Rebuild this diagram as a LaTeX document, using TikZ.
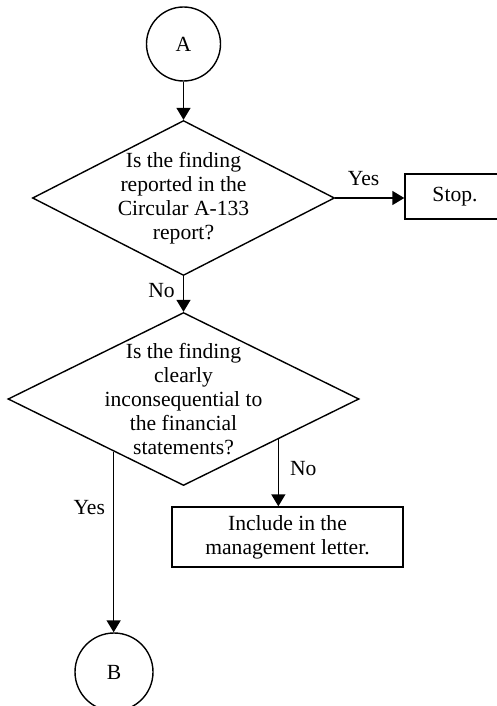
\documentclass[tikz,border=0pt]{standalone}
\usepackage{fontspec}
\setmainfont{Liberation Serif}
\usetikzlibrary{shapes.geometric,arrows.meta}

\begin{document}
\begin{tikzpicture}[x=0.5pt,y=-0.5pt,line width=0.7pt,
		font=\fontsize{10.8}{12}\selectfont,
		connector/.style={circle,draw,inner sep=0pt},
		decision/.style={diamond,draw,inner sep=0pt},
		action/.style={rectangle,draw,align=center,inner sep=0pt},
		flow/.style={-{Triangle[length=6pt,width=7pt]}},
		answer/.style={inner sep=1pt}]
			\useasboundingbox (0,0) rectangle (497,706);
			\node [connector,minimum size=37pt] (A) at (183.5,44) {A};
			\node [decision,minimum width=151pt,minimum height=77.5pt,
				label={[align=center]center:Is the finding\\reported in the\\Circular A-133\\report?}] (q1) at (183.5,198) {};
			\node [action,minimum width=50pt,minimum height=22.5pt] (stop) at (455,196.5) {Stop.};
			\node [decision,minimum width=175.5pt,minimum height=86.5pt,
				label={[align=center]center:Is the finding\\clearly\\inconsequential to\\the financial\\statements?}] (q2) at (183.5,399) {};
			\node [action,minimum width=115.5pt,minimum height=30pt] (incl) at (287.5,537) {Include in the\\management letter.};
			\node [connector,minimum size=39pt] (B) at (114,672) {B};
			\draw [flow] (A) -- (q1);
			\draw [flow] (q1.east) -- node [answer,above=5pt,pos=0.41] {Yes} (q1.east -| stop.west);
			\draw [flow] (q1.south) -- node [answer,left=3pt,pos=0.4] {No} (q2.north);
			\draw [flow] (q2.-23) -- node [answer,right=4.5pt,pos=0.43] {No} (q2.-23 |- incl.north);
			\draw [flow] (q2.217) -- node [answer,left=3pt,pos=0.31] {Yes} (q2.217 |- B.north);
		\end{tikzpicture}
\end{document}
